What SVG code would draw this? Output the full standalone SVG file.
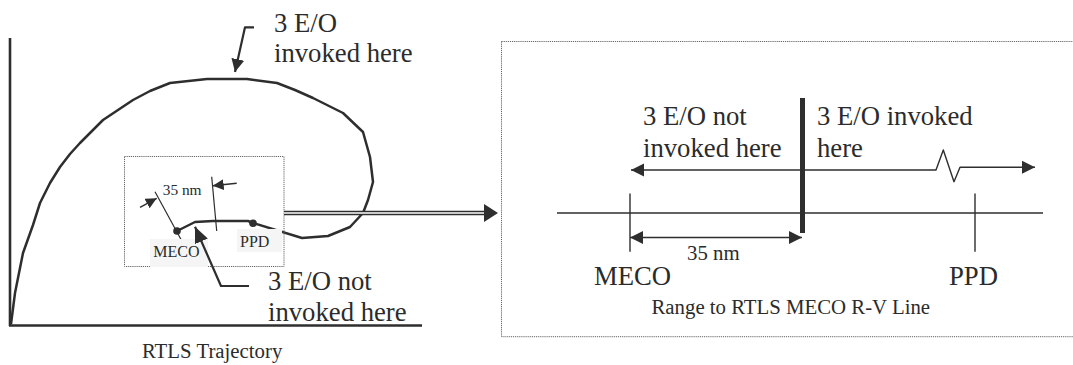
<svg xmlns="http://www.w3.org/2000/svg" width="1073" height="365" viewBox="0 0 1073 365">
<style>
.ln{fill:none;stroke:#2e2e2e;stroke-linejoin:round;stroke-linecap:butt}
.dot{fill:none;stroke:#666;stroke-width:1;stroke-dasharray:1.2 0.9}
.big{font-family:"Liberation Serif","Times New Roman",serif;font-size:26.7px;fill:#2b2b2b}
.mid{font-family:"Liberation Serif","Times New Roman",serif;font-size:20.8px;fill:#2b2b2b}
.sm{font-family:"Liberation Serif","Times New Roman",serif;font-size:16px;fill:#2b2b2b}
.ah{fill:#2e2e2e}
</style>
<defs>
<marker id="aBig" markerUnits="userSpaceOnUse" markerWidth="18" markerHeight="16" refX="16" refY="7" orient="auto"><path d="M0,0 L16,7 L0,14 Z" class="ah"/></marker>
<marker id="aMed" markerUnits="userSpaceOnUse" markerWidth="14" markerHeight="14" refX="13" refY="7" orient="auto"><path d="M0,0.5 L13,7 L0,13.5 Z" class="ah"/></marker>
<marker id="aSm" markerUnits="userSpaceOnUse" markerWidth="12" markerHeight="12" refX="11" refY="5.5" orient="auto"><path d="M0,0 L11,5.5 L0,11 Z" class="ah"/></marker>
<marker id="aStart" markerUnits="userSpaceOnUse" markerWidth="14" markerHeight="14" refX="0" refY="7" orient="auto"><path d="M0,7 L13,0.5 L13,13.5 Z" class="ah"/></marker>
<marker id="aDbl" markerUnits="userSpaceOnUse" markerWidth="16" markerHeight="20" refX="14" refY="9" orient="auto"><path d="M0,0 L14,9 L0,18 Z" class="ah"/></marker>
</defs>

<g id="left-panel">
  <g id="axes">
    <line class="ln" x1="10" y1="38" x2="10" y2="326" stroke-width="2.6"/>
    <line class="ln" x1="9" y1="325.5" x2="422" y2="325.5" stroke-width="2.6"/>
  </g>
  <g id="trajectory">
    <polyline class="ln" stroke-width="2.5" points="11,324 15,293 23,253 33,225 40,203 50,183 60,167 70,154 80,143 92,131 103,120 118,110 133,100 150,91 170,83 207,79 247,79 277,83 295,90 313,98 343,113 363,132 370,157 373,182 368,200 363,213 350,227 328,236 302,238 253,223 248,221 213,221 195,222 177,231"/>
    <circle cx="177" cy="231" r="3.8" fill="#2e2e2e"/>
    <circle cx="253" cy="223.3" r="3.8" fill="#2e2e2e"/>
  </g>
  <g id="zoom-box">
    <rect class="dot" x="124.5" y="156.5" width="159.5" height="110"/>
  </g>
  <g id="dim-35nm-left">
    <line class="ln" stroke-width="1.2" x1="155" y1="191.7" x2="181.7" y2="240.7"/>
    <line class="ln" stroke-width="1.2" x1="211.7" y1="176.7" x2="216.7" y2="231"/>
    <line class="ln" stroke-width="1.4" x1="140" y1="207.3" x2="156.7" y2="198.3" marker-end="url(#aSm)"/>
    <line class="ln" stroke-width="1.4" x1="236.7" y1="183.3" x2="212.7" y2="185.7" marker-end="url(#aSm)"/>
    <text class="sm" x="162.7" y="195" style="font-size:15.4px">35 nm</text>
  </g>
  <g id="label-meco">
    <rect x="150" y="239" width="58" height="28" fill="#f5f5f5"/>
    <text class="sm" x="153.3" y="257.3">MECO</text>
  </g>
  <g id="label-ppd">
    <rect x="237" y="229" width="45" height="23" fill="#f5f5f5"/>
    <text class="sm" x="240" y="247.3">PPD</text>
  </g>
  <g id="callout-invoked">
    <text class="big" x="274" y="31.5">3 E/O</text>
    <text class="big" x="274" y="62">invoked here</text>
  </g>
  <g id="callout-not-invoked">
    <text class="big" x="268" y="290">3 E/O not</text>
    <text class="big" x="268" y="320.5">invoked here</text>
  </g>
  <text class="mid" x="142" y="358">RTLS Trajectory</text>
</g>

<g id="connectors">
  <polyline class="ln" stroke-width="2.2" points="254,27.3 245,27.3 235,72" marker-end="url(#aMed)"/>
  <polyline class="ln" stroke-width="2.2" points="249,286 221,286 195,226.7" marker-end="url(#aBig)"/>
  <line x1="284" y1="213" x2="488" y2="213" stroke="#2e2e2e" stroke-width="4.6"/>
  <line x1="284" y1="213" x2="488" y2="213" stroke="#fff" stroke-width="1.3"/>
  <path d="M486,213 L498,213" fill="none" stroke="#2e2e2e" stroke-width="0.01" marker-end="url(#aDbl)"/>
</g>

<g id="right-panel">
  <rect class="dot" x="501.5" y="41.5" width="600" height="295.2"/>
  <g id="axis-line">
    <line class="ln" stroke-width="1.4" x1="557" y1="213" x2="1043" y2="213"/>
    <line class="ln" stroke-width="1.4" x1="630" y1="193.5" x2="630" y2="251.7"/>
    <line class="ln" stroke-width="1.4" x1="975" y1="193.5" x2="975" y2="251.7"/>
  </g>
  <g id="threshold-bar">
    <line x1="802.5" y1="98" x2="802.5" y2="233" stroke="#2e2e2e" stroke-width="5"/>
  </g>
  <g id="region-arrows">
    <line class="ln" stroke-width="1.4" x1="802" y1="170" x2="631" y2="170" marker-end="url(#aMed)"/>
    <polyline class="ln" stroke-width="1.4" points="802,170 936,170 943.3,150 954,181.7 960,167.3 1035,167.3" marker-end="url(#aMed)"/>
  </g>
  <g id="dim-35nm-right">
    <line class="ln" stroke-width="1.4" x1="630" y1="237.5" x2="802" y2="237.5" marker-start="url(#aStart)" marker-end="url(#aMed)"/>
    <text class="mid" x="687" y="260">35 nm</text>
  </g>
  <text class="big" x="643" y="125">3 E/O not</text>
  <text class="big" x="643" y="156.7">invoked here</text>
  <text class="big" x="817" y="125">3 E/O invoked</text>
  <text class="big" x="817" y="156.7">here</text>
  <text class="big" x="594" y="285">MECO</text>
  <text class="big" x="949" y="285">PPD</text>
  <text class="mid" x="651.5" y="314">Range to RTLS MECO R-V Line</text>
</g>
</svg>
